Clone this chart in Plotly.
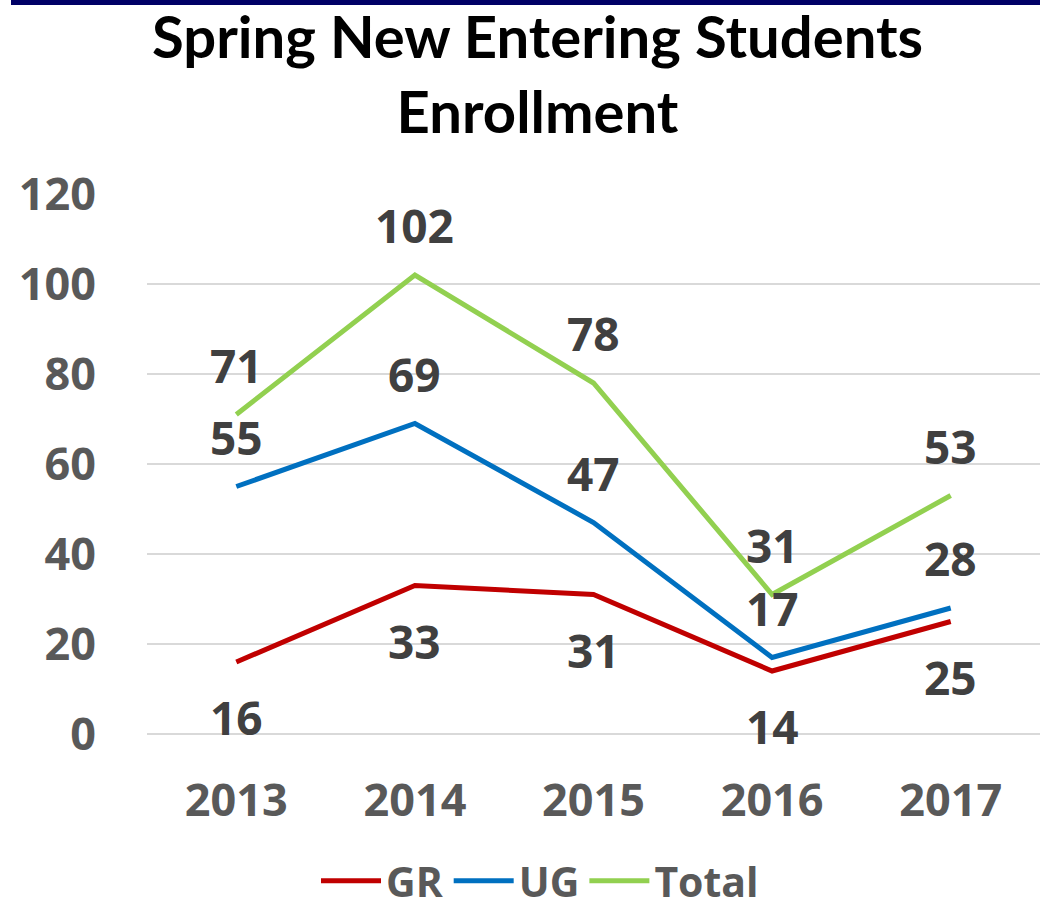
import plotly.graph_objects as go

years = ["2013", "2014", "2015", "2016", "2017"]
gr = [16, 33, 31, 14, 25]
ug = [55, 69, 47, 17, 28]
total = [71, 102, 78, 31, 53]

series = [("GR", gr, "#C00000", -55), ("UG", ug, "#0070C0", 50), ("Total", total, "#92D050", 50)]

TFONT = "Lato"
FONT = "Open Sans"
H = 930          # page is taller than the viewport; the extra rows are hidden
TOP, PLOT_H = 194, 540
fig = go.Figure()
annotations = []
for name, vals, color, shift in series:
    fig.add_trace(go.Scatter(x=years, y=vals, name=name, mode="lines",
                             line=dict(color=color, width=5)))
    for i, v in enumerate(vals):
        annotations.append(dict(x=i, y=v, text=str(v), showarrow=False, yshift=shift,
                                font=dict(family=FONT, size=46, color="#404040", weight="bold")))

annotations.append(dict(xref="paper", yref="paper", x=(537 - 147) / 893, y=(734 - 0) / PLOT_H,
                        text="Spring New Entering Students<br>Enrollment", showarrow=False,
                        font=dict(family=TFONT, size=58, color="#000000", weight="bold"),
                        xanchor="center", yanchor="top", borderpad=0))

fig.update_layout(
    width=1040, height=H,
    margin=dict(l=147, r=0, t=TOP, b=H - TOP - PLOT_H, autoexpand=False),
    paper_bgcolor="white", plot_bgcolor="white",
    showlegend=True,
    legend=dict(orientation="h", x=(540 - 147) / 893, xanchor="center", y=(734 - 881) / PLOT_H,
                yanchor="middle", font=dict(family=FONT, size=41, color="#595959", weight="bold"),
                itemwidth=60, borderwidth=0),
    annotations=annotations,
    shapes=[dict(type="rect", xref="paper", yref="paper", x0=(11 - 147) / 893, x1=1.01,
                 y0=(734 - 5) / PLOT_H, y1=(734 + 2) / PLOT_H, fillcolor="#000066", line=dict(width=0))],
    xaxis=dict(type="category", range=[-0.5, 4.5], showgrid=False, showline=False, zeroline=False,
               tickfont=dict(family=FONT, size=45, color="#595959", weight="bold"),
               ticks="", ticklabelstandoff=36),
    yaxis=dict(range=[0, 120], dtick=20, showgrid=True, gridcolor="#D9D9D9", gridwidth=1.5,
               zeroline=True, zerolinecolor="#D9D9D9", zerolinewidth=1.5, showline=False, ticks="",
               tickfont=dict(family=FONT, size=45, color="#595959", weight="bold"),
               ticklabelstandoff=50),
)

fig.write_html("out.html", config={"displayModeBar": False},
               post_script="document.body.style.margin='0';document.body.style.overflow='hidden';"
                           "document.documentElement.style.overflow='hidden';")
